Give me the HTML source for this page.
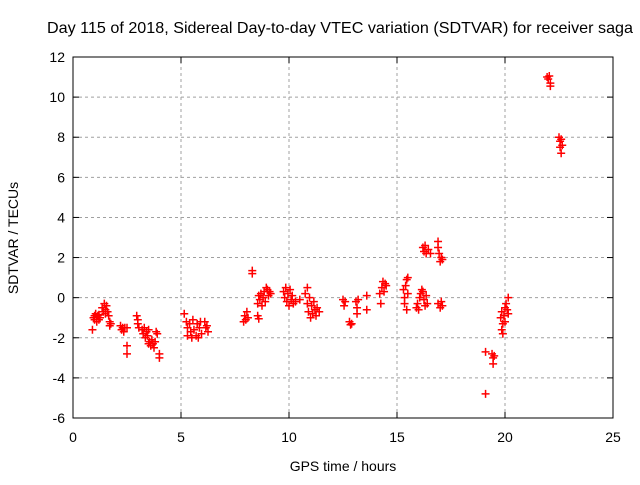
<!DOCTYPE html>
<html><head><meta charset="utf-8"><style>
body{margin:0;background:#fff}
svg text{font-family:"Liberation Sans",sans-serif;font-size:14px;fill:#000}
</style></head><body>
<svg id="chart" width="640" height="480">
<text x="340" y="33" text-anchor="middle" style="font-size:16px" textLength="586" lengthAdjust="spacingAndGlyphs">Day 115 of 2018, Sidereal Day-to-day VTEC variation (SDTVAR) for receiver saga</text>
<g id="grid"></g>
<rect x="73" y="57" width="540" height="361" fill="none" stroke="#000" stroke-width="1"/>
<g id="ticks"></g>
<g id="pts"></g>
<text x="343" y="471" text-anchor="middle">GPS time / hours</text>
<text transform="translate(18,238) rotate(-90)" text-anchor="middle">SDTVAR / TECUs</text>
</svg>
<script>
const xTicks=[0,5,10,15,20,25];
const yTicks=[-6,-4,-2,0,2,4,6,8,10,12];
const times=[0.9,0.95,1.0,1.0,1.05,1.1,1.1,1.15,1.2,1.2,1.25,1.35,1.4,1.45,1.5,1.5,1.55,1.6,1.65,1.7,1.75,1.7,
2.2,2.25,2.3,2.35,2.4,2.5,2.5,2.5,
2.95,3.0,3.0,3.05,3.2,3.25,3.3,3.35,3.4,3.45,3.5,3.5,3.55,3.6,3.65,3.7,3.75,3.8,3.85,3.9,4.0,4.0,
5.15,5.25,5.3,5.3,5.4,5.45,5.5,5.55,5.6,5.7,5.75,5.8,5.85,5.9,5.95,6.1,6.15,6.2,6.25,
7.9,7.95,8.0,8.05,8.1,8.3,8.3,8.55,8.6,8.55,8.6,8.65,8.7,8.75,8.8,8.85,8.9,8.95,9.0,9.05,9.1,9.15,
9.75,9.8,9.85,9.9,9.95,10.0,10.05,10.1,10.15,10.2,10.3,10.5,10.75,10.85,10.85,10.9,10.95,11.0,11.05,11.1,11.15,11.2,11.25,11.3,11.4,
12.5,12.55,12.6,12.8,12.85,12.9,13.1,13.15,13.15,13.2,13.6,13.6,14.2,14.25,14.3,14.35,14.4,14.45,14.5,
15.3,15.35,15.35,15.4,15.45,15.45,15.5,15.5,15.9,15.95,16.0,16.05,16.1,16.15,16.2,16.25,16.3,16.35,16.4,16.2,16.25,16.3,16.35,16.45,16.55,16.9,16.9,16.95,17.0,17.05,17.1,16.9,17.0,17.05,17.1,
19.1,19.1,19.4,19.45,19.45,19.5,
19.8,19.85,19.85,19.9,19.9,19.95,20.0,20.0,20.05,20.1,20.15,20.15,
21.95,22.0,22.05,22.1,22.1,22.5,22.55,22.55,22.6,22.6,22.65];
const values=[-1.6,-1.0,-0.9,-1.1,-0.8,-1.2,-1.0,-0.9,-1.1,-0.85,-1.0,-0.5,-0.7,-0.3,-0.6,-0.8,-0.4,-0.7,-0.9,-1.2,-1.3,-1.4,
-1.4,-1.6,-1.5,-1.7,-1.5,-1.5,-2.4,-2.8,
-0.9,-1.1,-1.3,-1.5,-1.6,-1.8,-1.5,-2.0,-1.7,-1.9,-1.6,-2.3,-2.2,-2.4,-2.1,-2.3,-2.5,-2.2,-1.7,-1.8,-2.8,-3.0,
-0.8,-1.2,-1.5,-1.9,-1.3,-1.7,-2.0,-1.1,-1.6,-1.9,-1.3,-2.0,-1.5,-1.2,-1.8,-1.2,-1.5,-1.4,-1.7,
-1.2,-0.9,-1.1,-0.7,-1.0,1.2,1.35,-0.9,-1.05,-0.3,0.1,-0.1,0.2,-0.4,0.0,0.3,-0.2,0.5,0.4,0.1,0.3,0.2,
0.3,0.0,0.5,-0.2,0.2,-0.4,0.4,-0.1,0.1,-0.3,-0.2,-0.1,0.2,0.5,-0.3,-0.7,0.0,-1.0,-0.4,-0.8,-0.2,-0.6,-0.9,-0.5,-0.7,
-0.1,-0.4,-0.2,-1.2,-1.35,-1.3,-0.2,-0.5,-0.8,-0.1,0.1,-0.6,0.2,-0.3,0.5,0.8,0.3,0.7,0.6,
0.4,-0.3,0.0,0.6,-0.6,0.9,1.0,0.2,-0.5,-0.3,-0.6,0.0,0.2,0.4,0.3,-0.1,-0.4,0.1,-0.3,2.5,2.3,2.6,2.2,2.4,2.2,2.8,2.5,2.2,1.8,2.0,1.9,-0.3,-0.5,-0.2,-0.4,
-2.7,-4.8,-2.8,-3.0,-3.3,-2.9,
-1.0,-1.6,-0.7,-1.3,-1.8,-0.9,-0.5,-1.2,-0.3,-0.6,0.0,-0.8,
11.0,10.9,11.05,10.7,10.55,8.0,7.8,7.5,7.9,7.2,7.6];
const NS='http://www.w3.org/2000/svg';
const X0=73,X1=613,Y0=418,Y1=57;
function sx(v){return X0+(v-0)/(25-0)*(X1-X0);}
function sy(v){return Y0-(v+6)/(18)*(Y0-Y1);}
function mk(t,a,p){const e=document.createElementNS(NS,t);for(const k in a)e.setAttribute(k,a[k]);p.appendChild(e);return e;}
const grid=document.getElementById('grid'),ticks=document.getElementById('ticks'),pts=document.getElementById('pts');
xTicks.forEach(v=>{const x=sx(v);
 if(v>0&&v<25){const l=mk('line',{x1:x,y1:Y0,x2:x,y2:Y1,stroke:'#a0a0a0','stroke-dasharray':'3,3'},grid);
 
 }
 mk('line',{x1:x,y1:Y0,x2:x,y2:Y0-6,stroke:'#000'},ticks);mk('line',{x1:x,y1:Y1,x2:x,y2:Y1+6,stroke:'#000'},ticks);
 const t=mk('text',{x:x,y:Y0+24,'text-anchor':'middle'},ticks);t.textContent=v;
 
 });
yTicks.forEach(v=>{const y=sy(v);
 if(v>-6&&v<12){const l=mk('line',{x1:X0,y1:y,x2:X1,y2:y,stroke:'#a0a0a0','stroke-dasharray':'3,3'},grid);
 
 }
 mk('line',{x1:X0,y1:y,x2:X0+6,y2:y,stroke:'#000'},ticks);mk('line',{x1:X1,y1:y,x2:X1-6,y2:y,stroke:'#000'},ticks);
 const t=mk('text',{x:X0-8,y:y+5,'text-anchor':'end'},ticks);t.textContent=v;
 
 });
times.forEach((t,i)=>{const x=sx(t),y=sy(values[i]);
 const p=mk('path',{d:`M${x-4},${y}H${x+4}M${x},${y-4}V${y+4}`,stroke:'#ff0000','stroke-width':1.5,fill:'none'},pts);
 
 });
</script>
</body></html>
